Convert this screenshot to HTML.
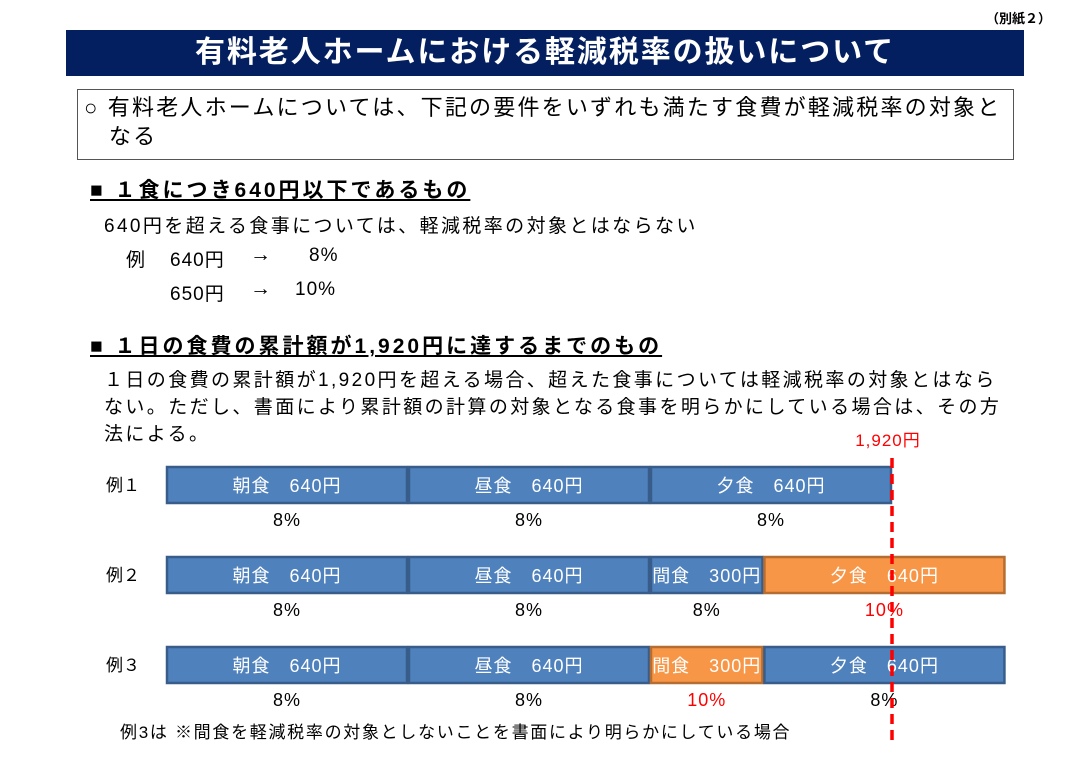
<!DOCTYPE html>
<html><head><meta charset="utf-8">
<style>
body{margin:0;width:1080px;height:763px;background:#fff;position:relative;overflow:hidden;font-family:"Liberation Sans","Noto Sans CJK JP",sans-serif;color:#000}
.a{position:absolute;white-space:nowrap}
</style></head><body>
<div class="a" style="left:986px;top:8px;font-size:13px;font-weight:bold">（別紙２）</div>
<div class="a" style="left:66px;top:30px;width:958px;height:46px;background:#041f5f;color:#fff;font-size:30px;font-weight:bold;text-align:center;line-height:46px;letter-spacing:1.9px">有料老人ホームにおける軽減税率の扱いについて</div>
<div class="a" style="left:77px;top:89px;width:937px;height:71px;border:1px solid #555;box-sizing:border-box"></div>
<div class="a" style="left:84px;top:93px;font-size:22px;line-height:29px;letter-spacing:2.2px">○ 有料老人ホームについては、下記の要件をいずれも満たす食費が軽減税率の対象と<br>&nbsp;&nbsp;&nbsp;なる</div>
<div class="a" style="left:90px;top:174px;font-size:21px;font-weight:bold;text-decoration:underline;letter-spacing:3px">■ １食につき640円以下であるもの</div>
<div class="a" style="left:104px;top:211px;font-size:19px;letter-spacing:2.4px">640円を超える食事については、軽減税率の対象とはならない</div>
<div class="a" style="left:126px;top:245px;font-size:19px">例</div>
<div class="a" style="left:170px;top:245px;font-size:19px;letter-spacing:1px">640円</div>
<div class="a" style="left:250px;top:243px;font-size:21px">→</div>
<div class="a" style="left:309px;top:245px;font-size:19px;letter-spacing:1px">8%</div>
<div class="a" style="left:170px;top:279px;font-size:19px;letter-spacing:1px">650円</div>
<div class="a" style="left:250px;top:277px;font-size:21px">→</div>
<div class="a" style="left:295px;top:279px;font-size:19px;letter-spacing:1px">10%</div>
<div class="a" style="left:90px;top:330px;font-size:21px;font-weight:bold;text-decoration:underline;letter-spacing:3px">■ １日の食費の累計額が1,920円に達するまでのもの</div>
<div class="a" style="left:104px;top:367px;font-size:19px;line-height:27px;letter-spacing:2.4px">１日の食費の累計額が1,920円を超える場合、超えた食事については軽減税率の対象とはなら<br>ない。ただし、書面により累計額の計算の対象となる食事を明らかにしている場合は、その方<br>法による。</div>
<div class="a" style="left:120px;top:718px;font-size:17px;letter-spacing:1.7px">例3は ※間食を軽減税率の対象としないことを書面により明らかにしている場合</div>
<svg id="chart" width="1080" height="763" style="position:absolute;left:0;top:0"></svg>
<script>
const rowLabels=["例１","例２","例３"];
const mealNames=[["朝食","昼食","夕食"],["朝食","昼食","間食","夕食"],["朝食","昼食","間食","夕食"]];
const mealPrices=[[640,640,640],[640,640,300,640],[640,640,300,640]];
const taxRates=[["8%","8%","8%"],["8%","8%","8%","10%"],["8%","8%","10%","8%"]];
const limit=1920;
const NS="http://www.w3.org/2000/svg";
const svg=document.getElementById("chart");
const x0=166,scale=242/640,rowY=[466,556,646],barH=38;
const X=v=>x0+v*scale;
function mk(t,a){const e=document.createElementNS(NS,t);for(const k in a)e.setAttribute(k,a[k]);svg.appendChild(e);return e;}
rowLabels.forEach((lab,r)=>{
  const t=mk("text",{x:106,y:rowY[r]+25,"font-size":17});
  
  
  t.textContent=lab;
  let cum=0;
  mealPrices[r].forEach((p,i)=>{
    const ten=taxRates[r][i]==="10%";
    const rc=mk("rect",{x:X(cum)+1,y:rowY[r]+1,width:p*scale-2,height:barH-2,fill:ten?"#f79646":"#4f81bd",stroke:ten?"#b66d31":"#385d8a","stroke-width":2.5});
    
    
    const cx=X(cum+p/2);
    const tt=mk("text",{x:cx,y:rowY[r]+26,"text-anchor":"middle",fill:"#fff","font-size":18,"letter-spacing":"1"});
    
    
    tt.textContent=mealNames[r][i]+"　"+p+"円";
    const pt=mk("text",{x:cx,y:rowY[r]+60,"text-anchor":"middle",fill:ten?"#ff0000":"#000","font-size":18,"letter-spacing":"1"});
    
    
    pt.textContent=taxRates[r][i];
    cum+=p;
  });
});
const ln=mk("line",{x1:X(limit),x2:X(limit),y1:458,y2:742,stroke:"#ff0000","stroke-width":3.5,"stroke-dasharray":"10,6"});


const lt=mk("text",{x:X(limit)-4,y:446,"text-anchor":"middle",fill:"#ff0000","font-size":17,"letter-spacing":"1"});


lt.textContent="1,920円";
</script>
</body></html>
